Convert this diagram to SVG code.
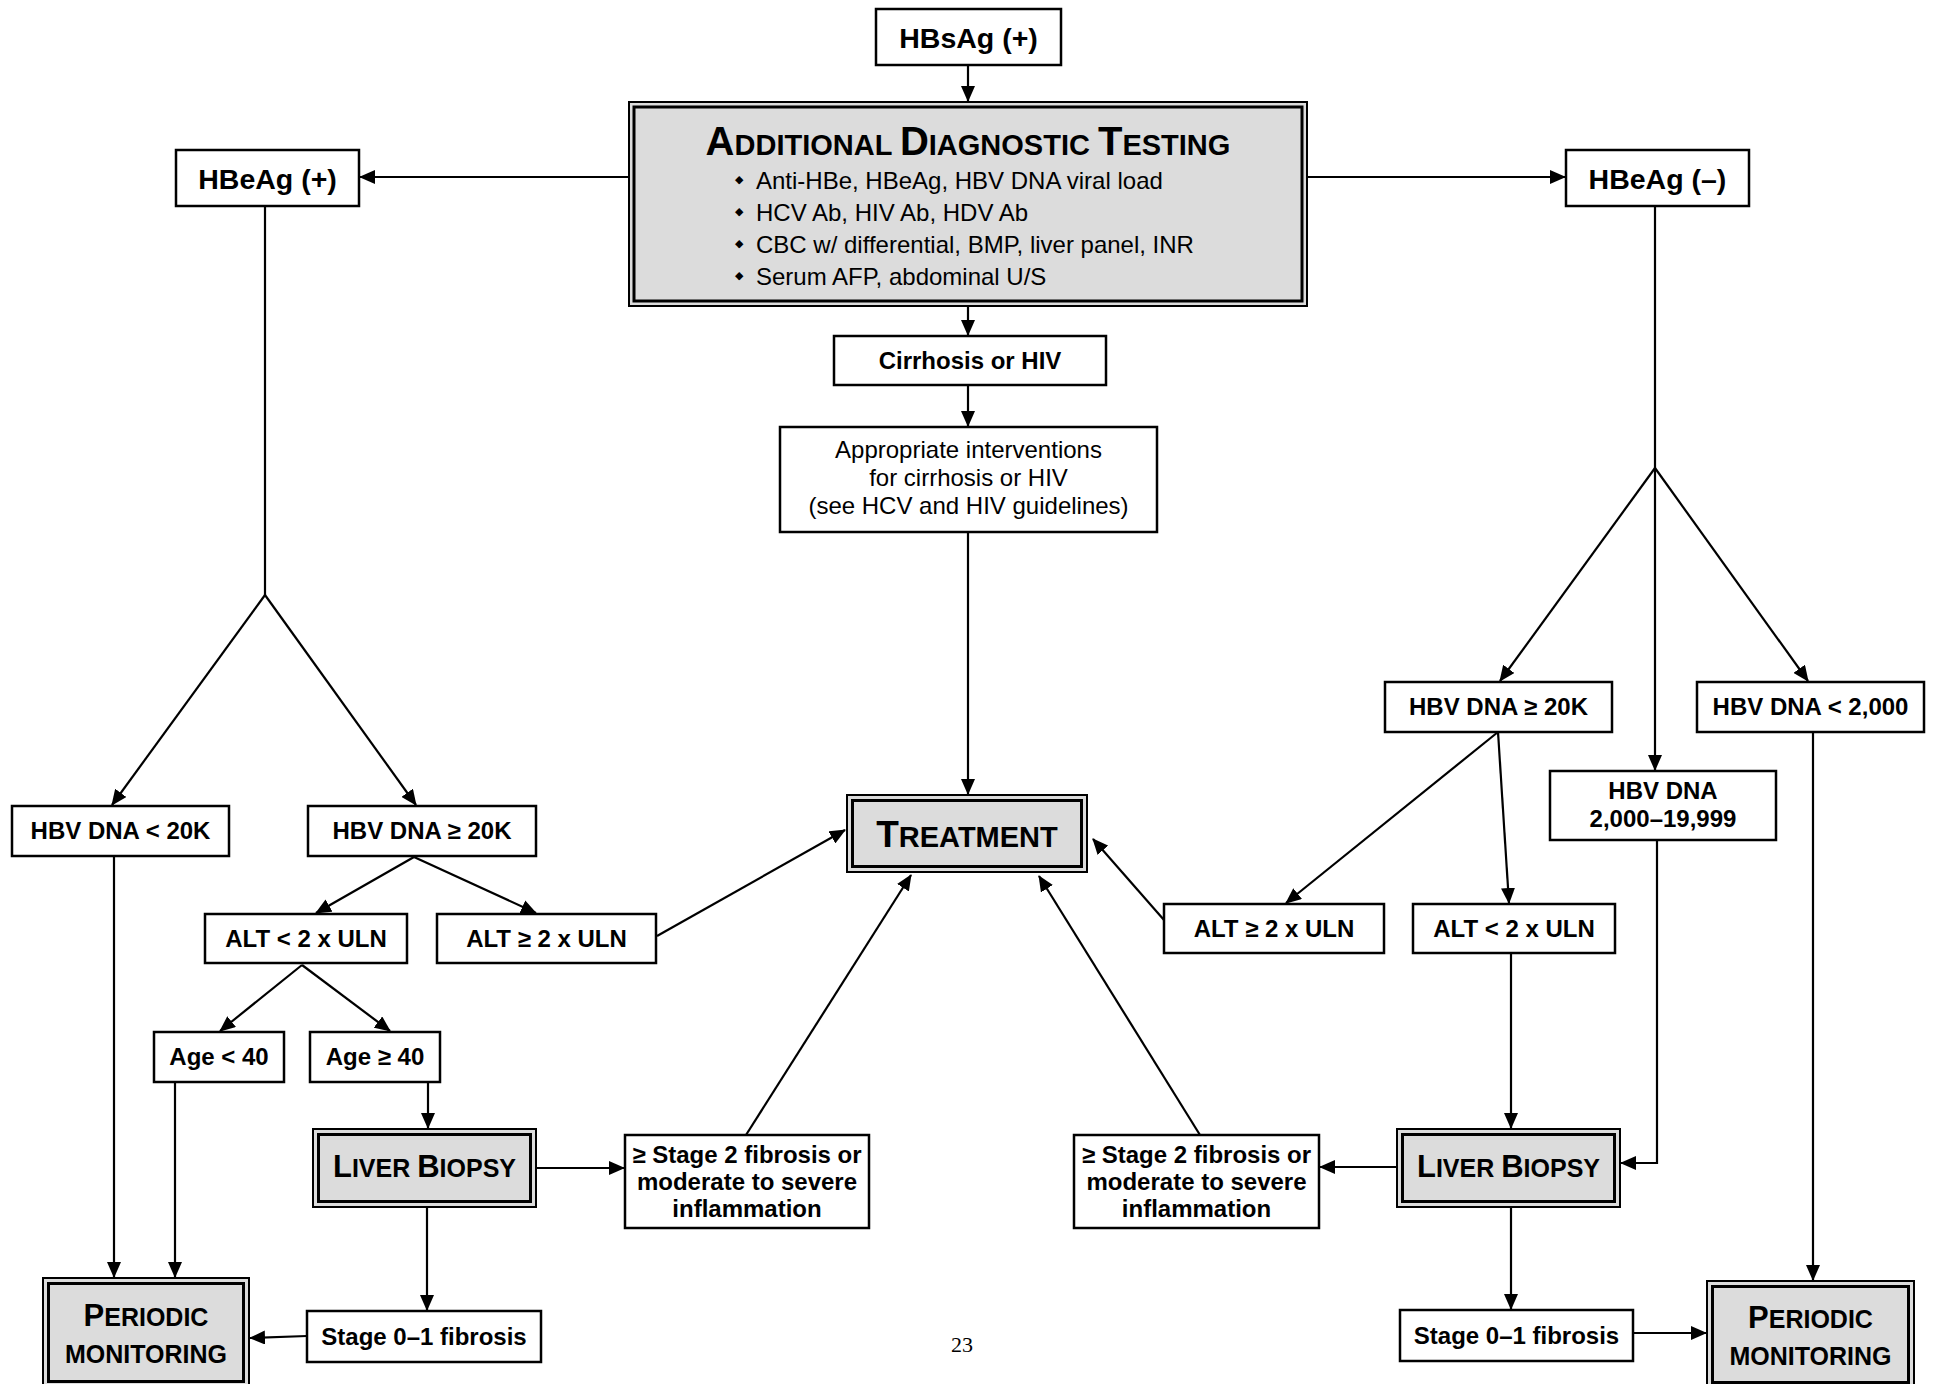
<svg xmlns="http://www.w3.org/2000/svg" width="1934" height="1384" viewBox="0 0 1934 1384">
<defs>
<style>
.box{fill:#fff;stroke:#000;stroke-width:2.5}
.dout{fill:#dcdcdc;stroke:#000;stroke-width:2}
.din{fill:none;stroke:#000;stroke-width:3}
.t{font-family:"Liberation Sans",Arial,sans-serif;font-weight:bold;font-size:24px;text-anchor:middle;fill:#000}
.r{font-family:"Liberation Sans",Arial,sans-serif;font-size:24px;fill:#000}
.rc{font-family:"Liberation Sans",Arial,sans-serif;font-size:24px;text-anchor:middle;fill:#000}
.big{font-family:"Liberation Sans",Arial,sans-serif;font-weight:bold;text-anchor:middle;fill:#000}
.bul{font-family:"DejaVu Sans",sans-serif;font-size:11px;fill:#000}
.ln{fill:none;stroke:#000;stroke-width:2.2}
.ar{fill:none;stroke:#000;stroke-width:2.2;marker-end:url(#ah)}
</style>
<marker id="ah" markerUnits="userSpaceOnUse" markerWidth="16" markerHeight="14" refX="15" refY="7" orient="auto">
<path d="M0,0 L16,7 L0,14 Z" fill="#000"/>
</marker>
</defs>
<rect width="1934" height="1384" fill="#fff"/>

<g id="connectors">
<path class="ar" d="M968,65 V101"/>
<path class="ar" d="M629,177 H360"/>
<path class="ar" d="M1307,177 H1565"/>
<path class="ar" d="M968,306 V335"/>
<path class="ar" d="M968,385 V426"/>
<path class="ar" d="M968,532 V794"/>
<path class="ln" d="M265,206 V595"/>
<path class="ar" d="M265,595 L112,805"/>
<path class="ar" d="M265,595 L416,805"/>
<path class="ar" d="M114,856 V1277"/>
<path class="ar" d="M414,857 L316,913"/>
<path class="ar" d="M414,857 L536,913"/>
<path class="ar" d="M657,936 L845,830"/>
<path class="ar" d="M302,965 L220,1031"/>
<path class="ar" d="M302,965 L390,1031"/>
<path class="ar" d="M175,1082 V1277"/>
<path class="ar" d="M428,1082 V1128"/>
<path class="ar" d="M536,1168 H624"/>
<path class="ar" d="M427,1207 V1310"/>
<path class="ar" d="M307,1336 L250,1338"/>
<path class="ar" d="M746,1135 L911,875"/>
<path class="ln" d="M1655,206 V468"/>
<path class="ar" d="M1655,468 L1500,681"/>
<path class="ar" d="M1655,468 L1808,681"/>
<path class="ar" d="M1655,468 V770"/>
<path class="ar" d="M1498,732 L1286,903"/>
<path class="ar" d="M1498,732 L1509,903"/>
<path class="ar" d="M1164,920 L1093,839"/>
<path class="ar" d="M1511,953 V1128"/>
<path class="ar" d="M1657,840 V1163 H1621"/>
<path class="ar" d="M1397,1167 H1320"/>
<path class="ar" d="M1200,1135 L1039,876"/>
<path class="ar" d="M1511,1207 V1309"/>
<path class="ar" d="M1633,1333 H1706"/>
<path class="ar" d="M1813,732 V1280"/>
</g>

<g id="hbsag">
<rect class="box" x="876" y="9" width="185" height="56"/>
<text class="big" x="968.5" y="48" font-size="28.5">HBsAg (+)</text>
</g>

<g id="adt">
<rect class="dout" x="629" y="102" width="678" height="204"/>
<rect class="din" x="634" y="107" width="668" height="194"/>
<text class="big" x="968" y="155"><tspan font-size="40">A</tspan><tspan font-size="29">DDITIONAL </tspan><tspan font-size="40">D</tspan><tspan font-size="29">IAGNOSTIC </tspan><tspan font-size="40">T</tspan><tspan font-size="29">ESTING</tspan></text>
<text class="bul" x="735" y="183">◆</text>
<text class="r" x="756" y="189">Anti-HBe, HBeAg, HBV DNA viral load</text>
<text class="bul" x="735" y="215">◆</text>
<text class="r" x="756" y="221">HCV Ab, HIV Ab, HDV Ab</text>
<text class="bul" x="735" y="247">◆</text>
<text class="r" x="756" y="253">CBC w/ differential, BMP, liver panel, INR</text>
<text class="bul" x="735" y="279">◆</text>
<text class="r" x="756" y="285">Serum AFP, abdominal U/S</text>
</g>

<g id="hbeag-pos">
<rect class="box" x="176" y="150" width="183" height="56"/>
<text class="big" x="267.5" y="189" font-size="28.5">HBeAg (+)</text>
</g>

<g id="hbeag-neg">
<rect class="box" x="1566" y="150" width="183" height="56"/>
<text class="big" x="1657.5" y="189" font-size="28.5">HBeAg (–)</text>
</g>

<g id="cirrhosis">
<rect class="box" x="834" y="336" width="272" height="49"/>
<text class="t" x="970" y="369">Cirrhosis or HIV</text>
</g>

<g id="interventions">
<rect class="box" x="780" y="427" width="377" height="105"/>
<text class="rc" x="968.5" y="458">Appropriate interventions</text>
<text class="rc" x="968.5" y="486">for cirrhosis or HIV</text>
<text class="rc" x="968.5" y="514">(see HCV and HIV guidelines)</text>
</g>

<g id="treatment">
<rect class="dout" x="847" y="795" width="240" height="77"/>
<rect class="din" x="852.5" y="800.5" width="229" height="66"/>
<text class="big" x="967" y="847"><tspan font-size="37">T</tspan><tspan font-size="29">REATMENT</tspan></text>
</g>

<g id="hbv-lt20k">
<rect class="box" x="12" y="806" width="217" height="50"/>
<text class="t" x="120.5" y="839">HBV DNA &lt; 20K</text>
</g>

<g id="hbv-ge20k-left">
<rect class="box" x="308" y="806" width="228" height="50"/>
<text class="t" x="422" y="839">HBV DNA ≥ 20K</text>
</g>

<g id="alt-lt2-left">
<rect class="box" x="205" y="914" width="202" height="49"/>
<text class="t" x="306" y="947">ALT &lt; 2 x ULN</text>
</g>

<g id="alt-ge2-left">
<rect class="box" x="437" y="914" width="219" height="49"/>
<text class="t" x="546.5" y="947">ALT ≥ 2 x ULN</text>
</g>

<g id="age-lt40">
<rect class="box" x="154" y="1032" width="130" height="50"/>
<text class="t" x="219" y="1065">Age &lt; 40</text>
</g>

<g id="age-ge40">
<rect class="box" x="310" y="1032" width="130" height="50"/>
<text class="t" x="375" y="1065">Age ≥ 40</text>
</g>

<g id="biopsy-left">
<rect class="dout" x="313" y="1129" width="223" height="78"/>
<rect class="din" x="318.5" y="1134.5" width="212" height="67"/>
<text class="big" x="424.5" y="1177"><tspan font-size="31">L</tspan><tspan font-size="25">IVER </tspan><tspan font-size="31">B</tspan><tspan font-size="25">IOPSY</tspan></text>
</g>

<g id="stage2-left">
<rect class="box" x="625" y="1135" width="244" height="93"/>
<text class="t" x="747" y="1163">≥ Stage 2 fibrosis or</text>
<text class="t" x="747" y="1190">moderate to severe</text>
<text class="t" x="747" y="1217">inflammation</text>
</g>

<g id="stage01-left">
<rect class="box" x="307" y="1311" width="234" height="51"/>
<text class="t" x="424" y="1345">Stage 0–1 fibrosis</text>
</g>

<g id="monitoring-left">
<rect class="dout" x="43" y="1278" width="206" height="110"/>
<rect class="din" x="48.5" y="1283.5" width="195" height="98"/>
<text class="big" x="146" y="1326"><tspan font-size="31">P</tspan><tspan font-size="25">ERIODIC</tspan></text>
<text class="big" x="146" y="1363" font-size="25">MONITORING</text>
</g>

<g id="hbv-ge20k-right">
<rect class="box" x="1385" y="682" width="227" height="50"/>
<text class="t" x="1498.5" y="715">HBV DNA ≥ 20K</text>
</g>

<g id="hbv-lt2000">
<rect class="box" x="1697" y="682" width="227" height="50"/>
<text class="t" x="1810.5" y="715">HBV DNA &lt; 2,000</text>
</g>

<g id="hbv-2000-19999">
<rect class="box" x="1550" y="771" width="226" height="69"/>
<text class="t" x="1663" y="799">HBV DNA</text>
<text class="t" x="1663" y="827">2,000–19,999</text>
</g>

<g id="alt-ge2-right">
<rect class="box" x="1164" y="904" width="220" height="49"/>
<text class="t" x="1274" y="937">ALT ≥ 2 x ULN</text>
</g>

<g id="alt-lt2-right">
<rect class="box" x="1413" y="904" width="202" height="49"/>
<text class="t" x="1514" y="937">ALT &lt; 2 x ULN</text>
</g>

<g id="biopsy-right">
<rect class="dout" x="1397" y="1129" width="223" height="78"/>
<rect class="din" x="1402.5" y="1134.5" width="212" height="67"/>
<text class="big" x="1508.5" y="1177"><tspan font-size="31">L</tspan><tspan font-size="25">IVER </tspan><tspan font-size="31">B</tspan><tspan font-size="25">IOPSY</tspan></text>
</g>

<g id="stage2-right">
<rect class="box" x="1074" y="1135" width="245" height="93"/>
<text class="t" x="1196.5" y="1163">≥ Stage 2 fibrosis or</text>
<text class="t" x="1196.5" y="1190">moderate to severe</text>
<text class="t" x="1196.5" y="1217">inflammation</text>
</g>

<g id="stage01-right">
<rect class="box" x="1400" y="1310" width="233" height="51"/>
<text class="t" x="1516.5" y="1344">Stage 0–1 fibrosis</text>
</g>

<g id="monitoring-right">
<rect class="dout" x="1707" y="1281" width="207" height="108"/>
<rect class="din" x="1712.5" y="1286.5" width="196" height="96"/>
<text class="big" x="1810.5" y="1328"><tspan font-size="31">P</tspan><tspan font-size="25">ERIODIC</tspan></text>
<text class="big" x="1810.5" y="1365" font-size="25">MONITORING</text>
</g>

<text x="962" y="1352" font-family="'Liberation Serif','Times New Roman',serif" font-size="22" text-anchor="middle">23</text>
</svg>
